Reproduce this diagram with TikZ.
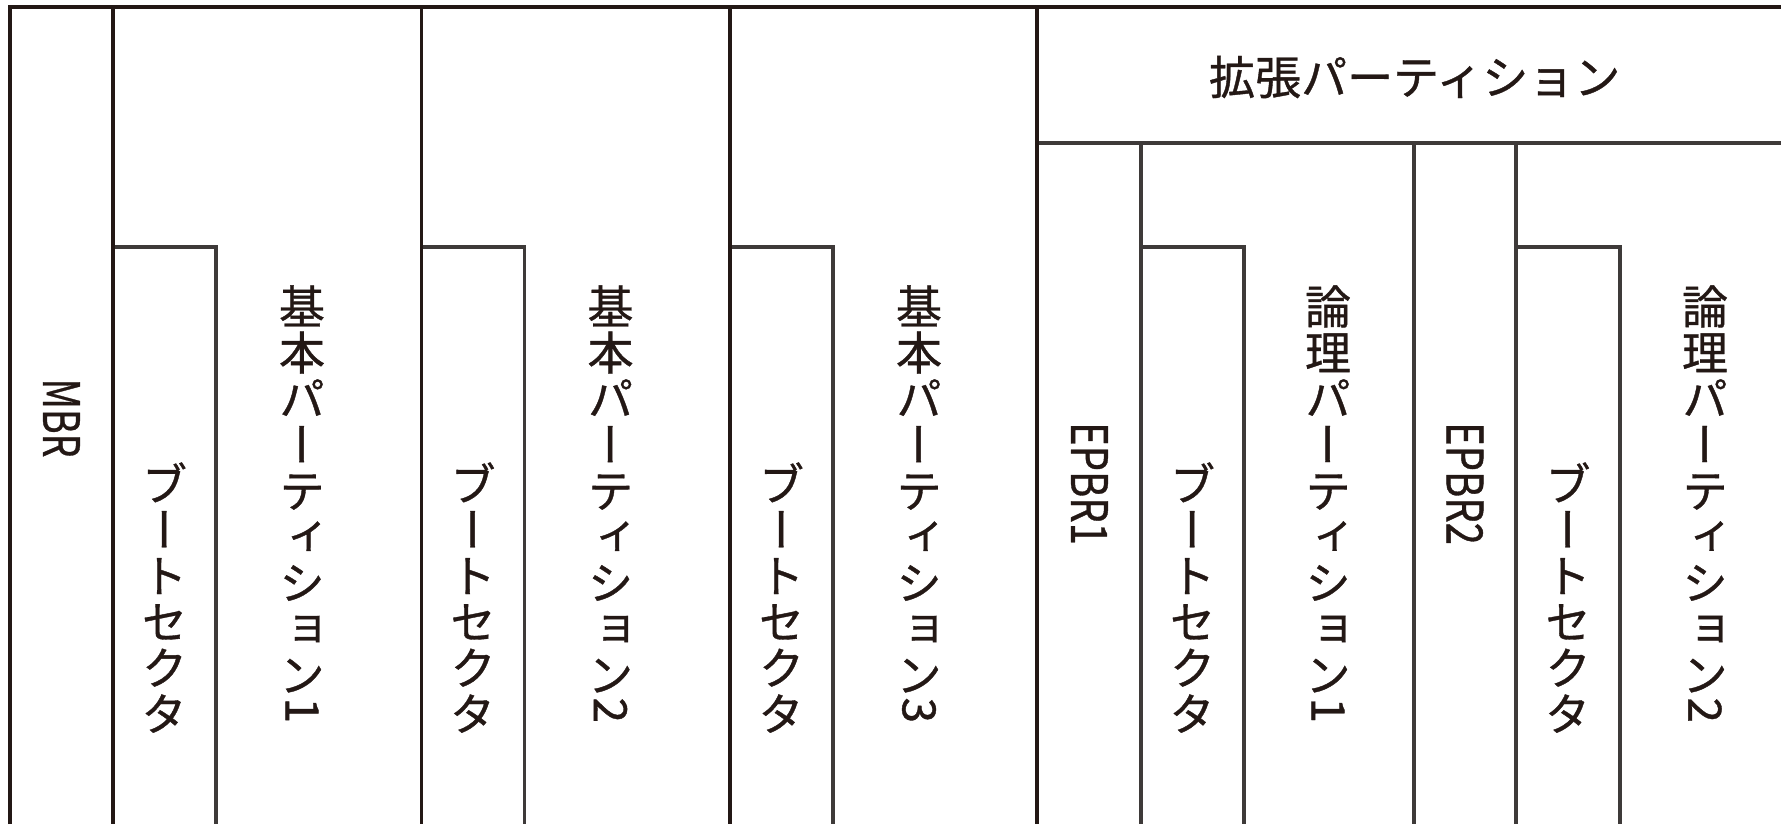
\documentclass[tikz,border=0pt]{standalone}
\usepackage{fontspec}
\usepackage{graphicx}
\newfontfamily\jpfont[FakeBold=0.8]{Noto Sans CJK JP}
\newfontfamily\jpvfont[RawFeature=+vert,FakeBold=0.8]{Noto Sans CJK JP}
\definecolor{ink}{HTML}{231815}
\definecolor{inkb}{HTML}{3E3A39}
\newcommand\vdigit[1]{\raisebox{0.88em}{\rotatebox{-90}{\jpfont #1}}}
\newcommand\vsetup{\jpvfont\fontsize{23pt}{23pt}\selectfont\setlength{\lineskiplimit}{-100pt}\setlength{\lineskip}{0pt}}
\newcommand\hsetup{\jpfont\fontsize{23pt}{23pt}\selectfont}
\newcommand\lsetup{\jpfont\fontsize{25pt}{25pt}\selectfont}
\tikzset{
  heavy/.style={draw=ink, line width=1.9pt},
  light/.style={draw=inkb, line width=1.7pt},
  vlabel/.style={align=center, inner sep=0pt, anchor=north, text=ink, font=\vsetup},
  hlabel/.style={inner sep=0pt, text=ink, font=\hsetup},
  latlabel/.style={inner sep=0pt, rotate=-90, text=ink, font=\lsetup}
}
\begin{document}
\begin{tikzpicture}[x=0.5pt,y=-0.5pt]
\useasboundingbox (0,0) rectangle (1781,824);
% inner (lighter) lines
\draw[light] (113,247) -- (216,247) -- (216,824);
\draw[light] (421.5,247) -- (524.5,247) -- (524.5,824);
\draw[light] (730,247) -- (833,247) -- (833,824);
\draw[light] (1037,143) -- (1781,143);
\draw[light] (1141,143) -- (1141,824);
\draw[light] (1414,143) -- (1414,824);
\draw[light] (1516,143) -- (1516,824);
\draw[light] (1141,247) -- (1244,247) -- (1244,824);
\draw[light] (1516,247) -- (1620,247) -- (1620,824);
% main lines
\draw[heavy] (10,824) -- (10,7) -- (1781,7);
\draw[heavy] (113,7) -- (113,824);
\draw[heavy] (421.5,7) -- (421.5,824);
\draw[heavy] (730,7) -- (730,824);
\draw[heavy] (1037,7) -- (1037,824);
% labels
\node[latlabel] (mbr) at (61.5,418) {\scalebox{0.75}[1]{MBR}};
\node[vlabel] (boot1) at (164.5,462) {ブ\\ー\\ト\\セ\\ク\\タ};
\node[vlabel] (part1) at (302,285) {基\\本\\パ\\ー\\テ\\ィ\\シ\\ョ\\ン\\\vdigit{1}};
\node[vlabel] (boot2) at (473,462) {ブ\\ー\\ト\\セ\\ク\\タ};
\node[vlabel] (part2) at (610.5,285) {基\\本\\パ\\ー\\テ\\ィ\\シ\\ョ\\ン\\\vdigit{2}};
\node[vlabel] (boot3) at (781.5,462) {ブ\\ー\\ト\\セ\\ク\\タ};
\node[vlabel] (part3) at (919,285) {基\\本\\パ\\ー\\テ\\ィ\\シ\\ョ\\ン\\\vdigit{3}};
\node[hlabel] (ext) at (1414.7,77) {拡張パーティション};
\node[latlabel] (epbr1) at (1089.5,483.5) {\scalebox{0.8}[1]{EPBR1}};
\node[vlabel] (boot4) at (1192.5,462) {ブ\\ー\\ト\\セ\\ク\\タ};
\node[vlabel] (log1) at (1328,285) {論\\理\\パ\\ー\\テ\\ィ\\シ\\ョ\\ン\\\vdigit{1}};
\node[latlabel] (epbr2) at (1465,483.5) {\scalebox{0.8}[1]{EPBR2}};
\node[vlabel] (boot5) at (1568,462) {ブ\\ー\\ト\\セ\\ク\\タ};
\node[vlabel] (log2) at (1705,285) {論\\理\\パ\\ー\\テ\\ィ\\シ\\ョ\\ン\\\vdigit{2}};
\end{tikzpicture}
\end{document}
